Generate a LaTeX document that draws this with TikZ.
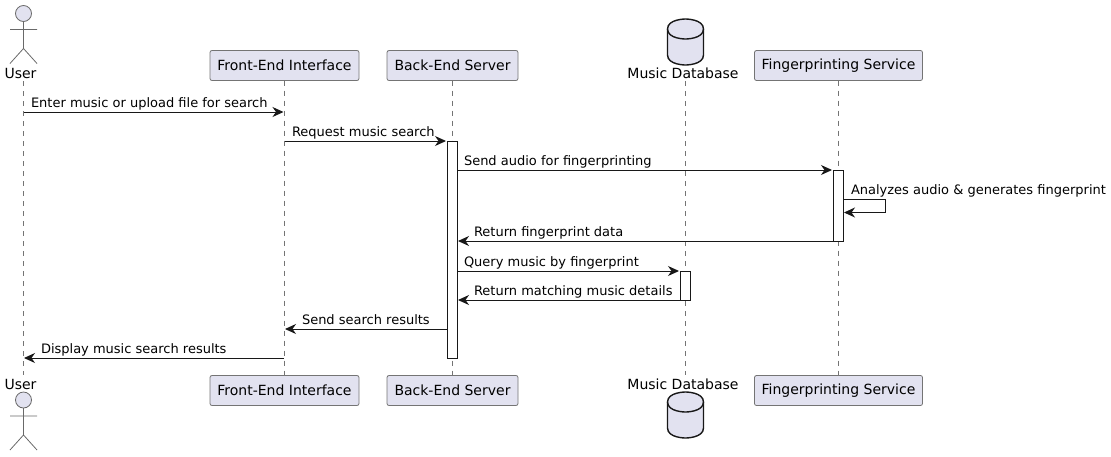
\documentclass[tikz,border=0pt]{standalone}
\usepackage{fontspec}
\setmainfont{DejaVu Sans}
\usetikzlibrary{arrows.meta}
\definecolor{pfill}{HTML}{E2E2F0}
\definecolor{pline}{HTML}{181818}
\tikzset{
  x=1pt,y=-1pt,
  every node/.style={font=\fontsize{13pt}{16pt}\selectfont,text=black,inner sep=0pt,outer sep=0pt},
  partbox/.style={draw=pline!60,line width=0.8pt,fill=pfill,rounded corners=2pt,anchor=center,minimum height=30pt,font=\fontsize{14pt}{16pt}\selectfont},
  lifeline/.style={draw=pline!60,line width=0.7pt,dash pattern=on 5pt off 5pt},
  msg/.style={draw=pline,line width=1pt,-{Stealth[length=11pt,width=10pt,inset=3.5pt]}},
  activation/.style={draw=pline,line width=1pt,fill=white},
  msglabel/.style={anchor=base west},
  partlabel/.style={anchor=base,font=\fontsize{14pt}{16pt}\selectfont},
  actorline/.style={draw=pline!65,line width=0.8pt},
  dbshape/.style={draw=pline,line width=1.4pt,fill=pfill}
}
\newcommand{\actorfig}[2]{% head centre x,y
  \filldraw[actorline,fill=pfill] (#1,#2) circle (8);
  \draw[actorline] (#1,#2+8) -- (#1,#2+35) (#1-13.5,#2+16) -- (#1+13.5,#2+16)
    (#1-13.5,#2+50) -- (#1,#2+35) -- (#1+13.5,#2+50);
}
\newcommand{\dbfig}[2]{% centre x, top y
  \path[dbshape] (#1-18,#2+10) .. controls (#1-18,#2) and (#1,#2) .. (#1,#2)
    .. controls (#1,#2) and (#1+18,#2) .. (#1+18,#2+10) -- (#1+18,#2+36)
    .. controls (#1+18,#2+46) and (#1,#2+46) .. (#1,#2+46)
    .. controls (#1,#2+46) and (#1-18,#2+46) .. (#1-18,#2+36) -- cycle;
  \draw[dbshape,fill=none] (#1-18,#2+10) .. controls (#1-18,#2+20) and (#1,#2+20) .. (#1,#2+20)
    .. controls (#1,#2+20) and (#1+18,#2+20) .. (#1+18,#2+10);
}
\begin{document}
\begin{tikzpicture}
\useasboundingbox (0,0) rectangle (1111,456);
% lifelines
\coordinate (ut) at (23.5,81); \coordinate (ub) at (23.5,375);
\coordinate (dt) at (685.5,81); \coordinate (db) at (685.5,375);
\node[partbox,minimum width=149pt] (fe) at (284.5,65.5) {Front-End Interface};
\node[partbox,minimum width=131pt] (be) at (452.5,65.5) {Back-End Server};
\node[partbox,minimum width=168pt] (fp) at (838.5,65.5) {Fingerprinting Service};
\node[partbox,minimum width=149pt] (feb) at (284.5,390.5) {Front-End Interface};
\node[partbox,minimum width=131pt] (beb) at (452.5,390.5) {Back-End Server};
\node[partbox,minimum width=168pt] (fpb) at (838.5,390.5) {Fingerprinting Service};
\draw[lifeline] (ut) -- (ub);
\draw[lifeline] (fe.south) -- (feb.north);
\draw[lifeline] (be.south) -- (beb.north);
\draw[lifeline] (dt) -- (db);
\draw[lifeline] (fp.south) -- (fpb.north);
% activations
\node[activation,minimum width=10pt,minimum height=217pt] (abe) at (452,249.5) {};
\node[activation,minimum width=10pt,minimum height=71pt] (afp) at (838,205.5) {};
\node[activation,minimum width=10pt,minimum height=29pt] (adb) at (685,285.5) {};
% actors and database
\actorfig{23.5}{13.5}
\actorfig{23.5}{400}
\dbfig{685.5}{19}
\dbfig{685.5}{392}
\node[partlabel] (ul) at (20.5,78) {User};
\node[partlabel] (ulb) at (20.5,389) {User};
\node[partlabel] (dl) at (683,78) {Music Database};
\node[partlabel] (dlb) at (683,389) {Music Database};
% message ends
\coordinate (m1a) at (23.5,112);  \coordinate (m1b) at (283.5,112);
\coordinate (m2a) at (284.5,141); \coordinate (m2b) at (446,141);
\coordinate (m3a) at (457,170);   \coordinate (m3b) at (832,170);
\coordinate (m4a) at (843,199);   \coordinate (m4c) at (885.5,199);
\coordinate (m4d) at (885.5,212.5); \coordinate (m4b) at (844,212.5);
\coordinate (m5a) at (833,241);   \coordinate (m5b) at (458,241);
\coordinate (m6a) at (457,271);   \coordinate (m6b) at (679,271);
\coordinate (m7a) at (680,300);   \coordinate (m7b) at (458,300);
\coordinate (m8a) at (447,329);   \coordinate (m8b) at (285,329);
\coordinate (m9a) at (284,358);   \coordinate (m9b) at (24,358);
\draw[msg] (m1a) -- (m1b);
\draw[msg] (m2a) -- (m2b);
\draw[msg] (m3a) -- (m3b);
\draw[msg] (m4a) -- (m4c) -- (m4d) -- (m4b);
\draw[msg] (m5a) -- (m5b);
\draw[msg] (m6a) -- (m6b);
\draw[msg] (m7a) -- (m7b);
\draw[msg] (m8a) -- (m8b);
\draw[msg] (m9a) -- (m9b);
% labels
\node[msglabel] (t1) at (31,107) {Enter music or upload file for search};
\node[msglabel] (t2) at (292,136) {Request music search};
\node[msglabel] (t3) at (464,165.5) {Send audio for fingerprinting};
\node[msglabel] (t4) at (851,194.5) {Analyzes audio \& generates fingerprint};
\node[msglabel] (t5) at (474,236.5) {Return fingerprint data};
\node[msglabel] (t6) at (464,266.5) {Query music by fingerprint};
\node[msglabel] (t7) at (474,295) {Return matching music details};
\node[msglabel] (t8) at (302,324.5) {Send search results};
\node[msglabel] (t9) at (41,353.5) {Display music search results};
\end{tikzpicture}
\end{document}
